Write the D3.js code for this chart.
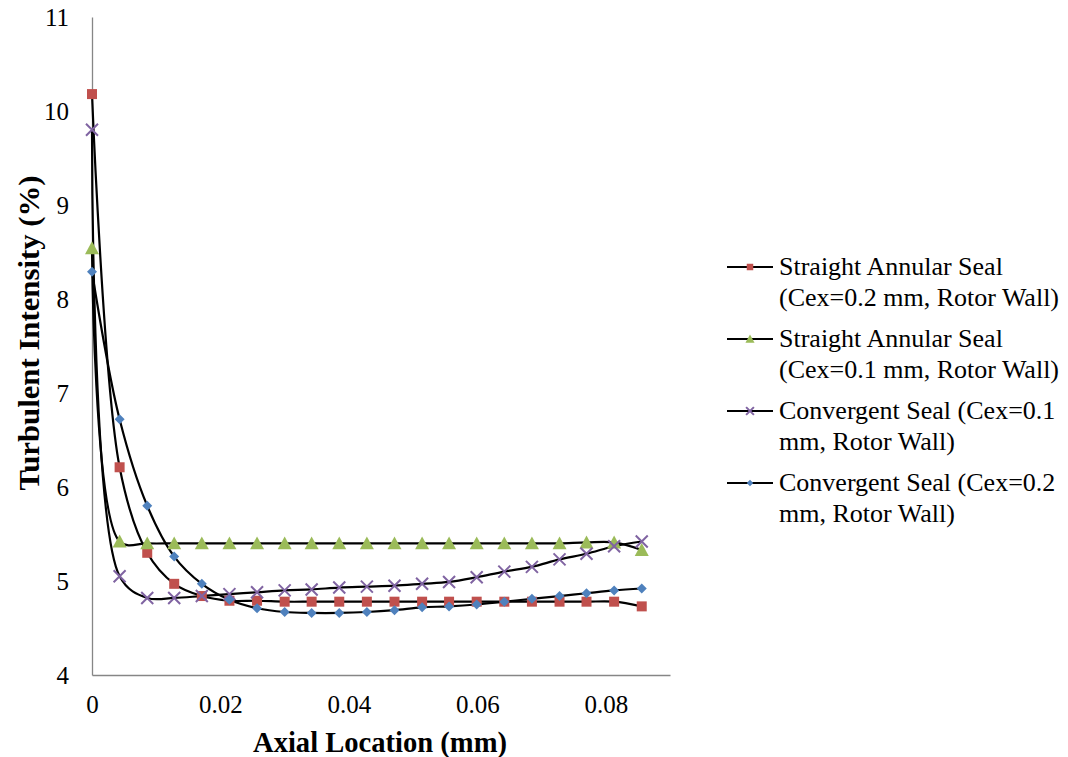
<!DOCTYPE html>
<html>
<head>
<meta charset="utf-8">
<script src="https://cdn.jsdelivr.net/npm/d3@7"></script>
<style>
  html, body { margin: 0; padding: 0; background: #fff; }
  svg { display: block; }
  svg text { font-family: "Liberation Serif", "Times New Roman", serif; fill: #000; }
</style>
</head>
<body>
<svg id="chart" width="1068" height="757"></svg>
<script>
// Axial positions (mm) along the seal
const axialLocation = [0, 0.0043, 0.0086, 0.0128, 0.0171, 0.0214, 0.0257, 0.03, 0.0342, 0.0385,
  0.0428, 0.0471, 0.0514, 0.0556, 0.0599, 0.0642, 0.0685, 0.0728, 0.077, 0.0813, 0.0856];

// Turbulent intensity (%) for each configuration
const straightCex02 = [10.18, 6.21, 5.30, 4.97, 4.84, 4.79, 4.79, 4.78, 4.78, 4.78, 4.78,
  4.78, 4.78, 4.78, 4.78, 4.78, 4.78, 4.78, 4.78, 4.78, 4.73];
const straightCex01 = [8.54, 5.42, 5.40, 5.40, 5.40, 5.40, 5.40, 5.40, 5.40, 5.40, 5.40,
  5.40, 5.40, 5.40, 5.40, 5.40, 5.40, 5.40, 5.41, 5.41, 5.33];
const convergentCex01 = [9.80, 5.05, 4.82, 4.82, 4.84, 4.86, 4.88, 4.90, 4.91, 4.93, 4.94,
  4.95, 4.97, 4.99, 5.04, 5.10, 5.15, 5.23, 5.29, 5.37, 5.42];
const convergentCex02 = [8.29, 6.72, 5.80, 5.26, 4.97, 4.80, 4.71, 4.67, 4.66, 4.66, 4.67,
  4.69, 4.72, 4.73, 4.75, 4.78, 4.81, 4.84, 4.87, 4.90, 4.92];

const seriesNames = [
  ["Straight Annular Seal", "(Cex=0.2 mm, Rotor Wall)"],
  ["Straight Annular Seal", "(Cex=0.1 mm, Rotor Wall)"],
  ["Convergent Seal (Cex=0.1", "mm, Rotor Wall)"],
  ["Convergent Seal (Cex=0.2", "mm, Rotor Wall)"]
];
const xTicks = [0, 0.02, 0.04, 0.06, 0.08];
const yTicks = [4, 5, 6, 7, 8, 9, 10, 11];

const series = [
  { values: straightCex02, marker: "square", color: "#C0504D" },
  { values: straightCex01, marker: "triangle", color: "#9BBB59" },
  { values: convergentCex01, marker: "cross", color: "#8064A2" },
  { values: convergentCex02, marker: "diamond", color: "#4F81BD" }
];

const svg = d3.select("#chart");
const x = d3.scaleLinear().domain([0, 0.09]).range([92, 670]);
const y = d3.scaleLinear().domain([4, 11]).range([675, 17]);

// Axes: plain gray lines, no tick marks
const axisColor = "#868686";
svg.append("g")
  .attr("transform", `translate(0,${y(4)})`)
  .call(d3.axisBottom(x).tickValues(xTicks).tickSize(0).tickPadding(20)
    .tickFormat(d => d === 0 ? "0" : d3.format(".2f")(d)))
  .call(g => g.attr("font-family", null))
  .call(g => g.select(".domain").attr("stroke", axisColor).attr("stroke-width", 1.3))
  .call(g => g.selectAll("text").attr("font-size", 25));

svg.append("g")
  .attr("transform", `translate(${x(0)},0)`)
  .call(d3.axisLeft(y).tickValues(yTicks).tickSize(0).tickPadding(23).tickFormat(d3.format("d")))
  .call(g => g.attr("font-family", null))
  .call(g => g.select(".domain").attr("stroke", axisColor).attr("stroke-width", 1.3))
  .call(g => g.selectAll("text").attr("font-size", 25));

// Axis titles
svg.append("text")
  .attr("x", 380).attr("y", 752)
  .attr("text-anchor", "middle")
  .attr("font-size", 29).attr("font-weight", "bold")
  .attr("textLength", 254).attr("lengthAdjust", "spacingAndGlyphs")
  .text("Axial Location (mm)");

svg.append("text")
  .attr("transform", "translate(39,333) rotate(-90)")
  .attr("text-anchor", "middle")
  .attr("font-size", 30).attr("font-weight", "bold")
  .attr("textLength", 315).attr("lengthAdjust", "spacingAndGlyphs")
  .text("Turbulent Intensity (%)");

// Marker path generator
function markerPath(type, s) {
  const h = s / 2;
  switch (type) {
    case "square": return `M${-h},${-h}H${h}V${h}H${-h}Z`;
    case "triangle": return `M0,${-h}L${h},${h * 0.85}L${-h},${h * 0.85}Z`;
    case "diamond": return `M0,${-h}L${h},0L0,${h}L${-h},0Z`;
    case "cross": return `M${-h},${-h}L${h},${h}M${-h},${h}L${h},${-h}`;
  }
}
const markerSize = { square: 10, triangle: 14, diamond: 10, cross: 12 };

function drawMarker(g, type, color, size) {
  const p = g.append("path").attr("d", markerPath(type, size));
  if (type === "cross") p.attr("fill", "none").attr("stroke", color).attr("stroke-width", 2);
  else p.attr("fill", color);
}

const line = d3.line()
  .x((d, i) => x(axialLocation[i]))
  .y(d => y(d))
  .curve(d3.curveCatmullRom.alpha(0.5));

const plot = svg.append("g");
series.forEach(s => {
  plot.append("path")
    .attr("d", line(s.values))
    .attr("fill", "none")
    .attr("stroke", "#000")
    .attr("stroke-width", 2.2);
});
series.forEach(s => {
  s.values.forEach((v, i) => {
    const g = plot.append("g").attr("transform", `translate(${x(axialLocation[i])},${y(v)})`);
    drawMarker(g, s.marker, s.color, markerSize[s.marker]);
  });
});

// Legend
const legend = svg.append("g");
const legendTop = 275, legendStep = 72, lineGap = 30.5;
series.forEach((s, i) => {
  const by = legendTop + i * legendStep;
  const ly = by - 8;
  legend.append("line")
    .attr("x1", 727).attr("x2", 773).attr("y1", ly).attr("y2", ly)
    .attr("stroke", "#000").attr("stroke-width", 2);
  const g = legend.append("g").attr("transform", `translate(750,${ly})`);
  drawMarker(g, s.marker, s.color, markerSize[s.marker] * 0.65);
  seriesNames[i].forEach((t, j) => {
    legend.append("text")
      .attr("x", 779).attr("y", by + j * lineGap)
      .attr("font-size", 26)
      .text(t);
  });
});
</script>
</body>
</html>
